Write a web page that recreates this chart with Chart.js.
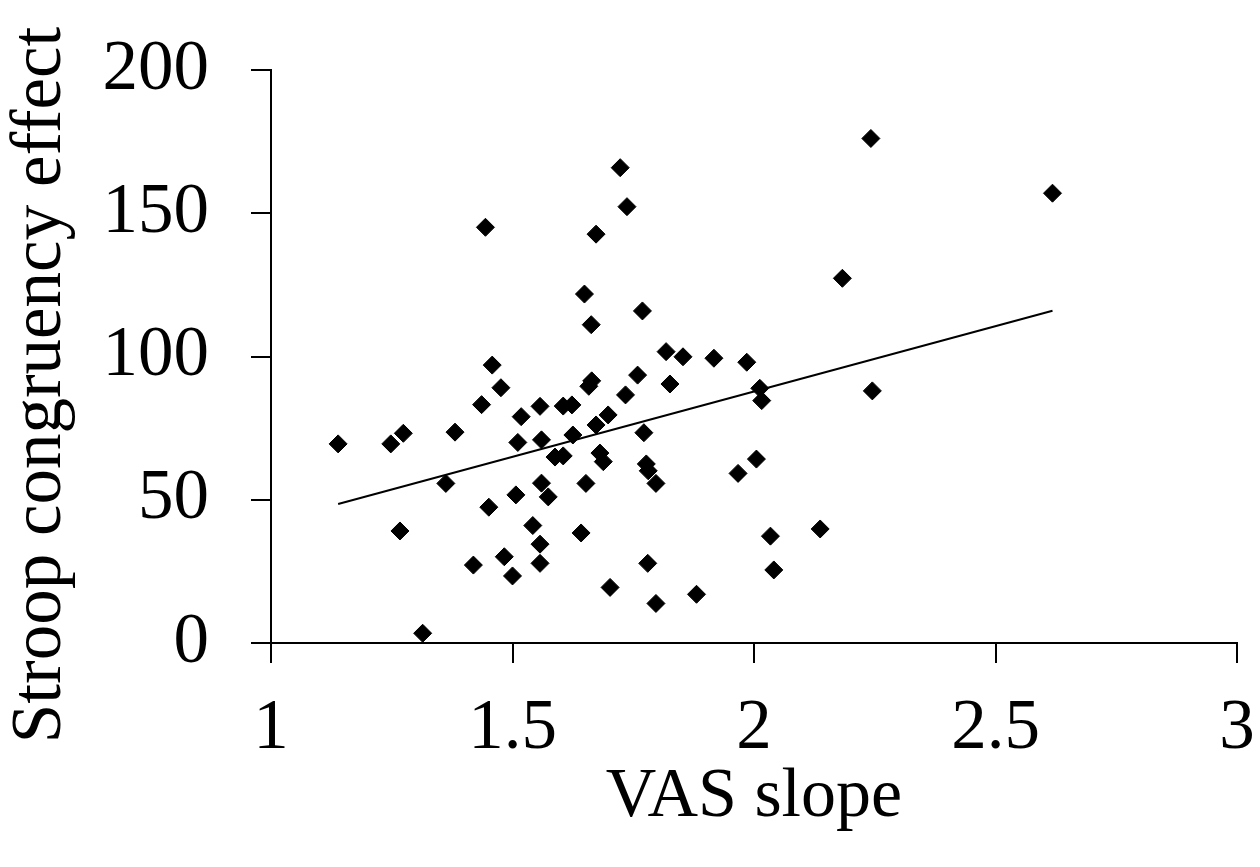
<!DOCTYPE html>
<html>
<head>
<meta charset="utf-8">
<script src="https://cdn.jsdelivr.net/npm/chart.js@4/dist/chart.umd.min.js"></script>
<style>
  html, body { margin: 0; padding: 0; background: #fff; }
  #wrap { width: 1260px; height: 867px; }
</style>
</head>
<body>
<div id="wrap"><canvas id="c" width="1260" height="867"></canvas></div>
<script>
// VAS slope (x) values
const vasSlope = [
  1.139, 1.248, 1.274, 1.267, 1.314, 1.362, 1.381, 1.419, 1.436, 1.444,
  1.451, 1.458, 1.476, 1.483, 1.500, 1.507, 1.511, 1.518, 1.542, 1.557,
  1.557, 1.557, 1.560, 1.560, 1.574, 1.588, 1.605, 1.605, 1.623, 1.625,
  1.642, 1.649, 1.652, 1.658, 1.664, 1.663, 1.673, 1.673, 1.681, 1.688,
  1.698, 1.702, 1.723, 1.734, 1.737, 1.759, 1.769, 1.772, 1.777, 1.781,
  1.780, 1.797, 1.797, 1.818, 1.826, 1.853, 1.881, 1.917, 1.967, 1.985,
  2.005, 2.012, 2.016, 2.034, 2.041, 2.137, 2.183, 2.242, 2.245, 2.618
];
// Stroop congruency effect (y) values
const stroopEffect = [
  69.5, 69.5, 73.2, 39.1, 3.4, 55.7, 73.6, 27.2, 83.2, 145.1,
  47.4, 97.0, 89.1, 30.1, 23.4, 51.7, 70.0, 79.0, 41.0, 82.6,
  34.5, 27.8, 70.9, 55.8, 51.0, 64.9, 65.3, 82.7, 83.1, 72.6,
  38.4, 121.8, 55.7, 89.6, 91.5, 111.1, 142.7, 76.1, 66.3, 63.3,
  79.6, 19.4, 165.9, 86.6, 152.3, 93.5, 115.9, 73.4, 62.5, 60.1,
  27.8, 55.7, 13.8, 101.7, 90.4, 99.9, 17.0, 99.4, 59.2, 98.0,
  64.2, 88.9, 84.6, 37.3, 25.5, 39.8, 127.3, 176.1, 88.0, 157.0
];
// Fitted trend line end points
const trendX = [1.139, 2.618];
const trendY = [48.5, 116.0];

// Axis settings / labels
const xTicks = [1, 1.5, 2, 2.5, 3];
const yTicks = [0, 50, 100, 150, 200];
const xTitle = 'VAS slope';
const yTitle = 'Stroop congruency effect';

const FONT = '"Liberation Serif", "Times New Roman", serif';

const points = vasSlope.map((x, i) => ({ x: x, y: stroopEffect[i] }));
const trend = trendX.map((x, i) => ({ x: x, y: trendY[i] }));

const yTitlePlugin = {
  id: 'yTitlePlugin',
  afterDraw(chart) {
    const ctx = chart.ctx;
    ctx.save();
    ctx.translate(41, 385);
    ctx.rotate(-Math.PI / 2);
    ctx.font = '71px ' + FONT;
    ctx.fillStyle = '#000';
    ctx.textAlign = 'center';
    ctx.textBaseline = 'middle';
    ctx.fillText(yTitle, 0, 0);
    ctx.restore();
  }
};

new Chart(document.getElementById('c'), {
  type: 'scatter',
  data: {
    datasets: [
      {
        label: 'data',
        data: points,
        pointStyle: 'rectRot',
        pointRadius: 9,
        pointBackgroundColor: '#000',
        pointBorderColor: '#000',
        pointBorderWidth: 1,
        order: 1
      },
      {
        type: 'line',
        label: 'trend',
        data: trend,
        borderColor: '#000',
        borderWidth: 2,
        pointRadius: 0,
        fill: false,
        order: 2
      }
    ]
  },
  options: {
    responsive: false,
    animation: false,
    devicePixelRatio: 1,
    layout: { padding: { top: 70, right: 23, left: 0, bottom: 0 } },
    plugins: {
      legend: { display: false },
      tooltip: { enabled: false }
    },
    scales: {
      x: {
        type: 'linear',
        min: 1, max: 3,
        afterBuildTicks(scale) { scale.ticks = xTicks.map(v => ({ value: v })); },
        afterFit(scale) {
          scale.height = 224;
          scale.paddingLeft = 0;
          scale.paddingRight = 0;
        },
        grid: { display: true, drawOnChartArea: false, drawTicks: true, tickLength: 20, color: '#000', lineWidth: 2 },
        border: { display: true, color: '#000', width: 2 },
        ticks: {
          color: '#000',
          padding: 24,
          font: { family: FONT, size: 71 },
          callback: v => String(v)
        },
        title: {
          display: true,
          text: xTitle,
          color: '#000',
          font: { family: FONT, size: 70 },
          padding: { top: 0, bottom: 27 }
        }
      },
      y: {
        type: 'linear',
        min: 0, max: 200,
        afterBuildTicks(scale) { scale.ticks = yTicks.map(v => ({ value: v })); },
        afterFit(scale) {
          scale.width = 271;
          scale.paddingTop = 0;
          scale.paddingBottom = 0;
        },
        grid: { display: true, drawOnChartArea: false, drawTicks: true, tickLength: 20, color: '#000', lineWidth: 2 },
        border: { display: true, color: '#000', width: 2 },
        ticks: {
          color: '#000',
          padding: 42,
          font: { family: FONT, size: 71 },
          callback: v => String(v)
        },
        title: { display: false }
      }
    }
  },
  plugins: [yTitlePlugin]
});
</script>
</body>
</html>
